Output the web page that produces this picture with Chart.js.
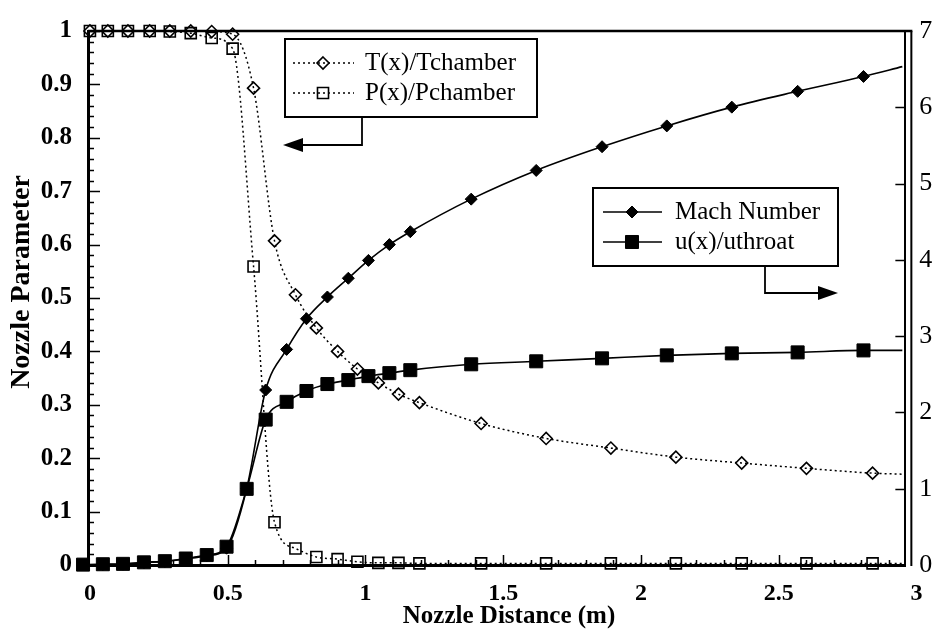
<!DOCTYPE html>
<html>
<head>
<meta charset="utf-8">
<script src="https://cdn.jsdelivr.net/npm/chart.js@4.4.1/dist/chart.umd.min.js"></script>
<style>
html,body{margin:0;padding:0;background:#fff;}
#wrap{width:936px;height:631px;position:relative;}
</style>
</head>
<body>
<div id="wrap"><canvas id="c"></canvas></div>
<script>
// ---- data ----
// Temperature / pressure series (left axis)
const xTP = [0, 0.065, 0.138, 0.217, 0.29, 0.366, 0.442, 0.518, 0.594, 0.67, 0.746, 0.822, 0.899, 0.971, 1.047, 1.12, 1.196, 1.42, 1.656, 1.891, 2.127, 2.366, 2.601, 2.841, 2.957];
const tempRatio = [1.0, 1.0, 1.0, 1.0, 1.0, 1.0, 0.999, 0.994, 0.893, 0.607, 0.506, 0.444, 0.40, 0.367, 0.341, 0.32, 0.304, 0.265, 0.237, 0.219, 0.202, 0.191, 0.181, 0.172, 0.170];
const pressRatio = [1.0, 1.0, 1.0, 1.0, 0.999, 0.996, 0.987, 0.967, 0.559, 0.08, 0.031, 0.015, 0.011, 0.006, 0.004, 0.004, 0.003, 0.003, 0.003, 0.003, 0.003, 0.003, 0.003, 0.003, 0.003];
// Mach number / velocity series (right axis)
const xMU = [-0.025, 0.047, 0.12, 0.196, 0.272, 0.348, 0.424, 0.496, 0.569, 0.638, 0.714, 0.786, 0.862, 0.938, 1.011, 1.087, 1.163, 1.384, 1.62, 1.859, 2.094, 2.33, 2.569, 2.808, 2.949];
const machNumber = [0.0, 0.005, 0.01, 0.03, 0.045, 0.08, 0.12, 0.22, 1.0, 2.294, 2.826, 3.228, 3.513, 3.759, 3.993, 4.2, 4.369, 4.796, 5.172, 5.483, 5.756, 6.002, 6.209, 6.404, 6.533];
const velRatio = [0.005, 0.01, 0.015, 0.035, 0.05, 0.085, 0.13, 0.24, 0.998, 1.906, 2.139, 2.281, 2.372, 2.424, 2.476, 2.515, 2.554, 2.631, 2.67, 2.709, 2.748, 2.774, 2.787, 2.813, 2.813];
const markerCount = 24; // last entry of each series is the curve end (no marker)
// tick labels
const xTicks = [0, 0.5, 1, 1.5, 2, 2.5, 3];
const leftTicks = [0, 0.1, 0.2, 0.3, 0.4, 0.5, 0.6, 0.7, 0.8, 0.9, 1];
const rightTicks = [0, 1, 2, 3, 4, 5, 6, 7];
const seriesNames = ['T(x)/Tchamber', 'P(x)/Pchamber', 'Mach Number', 'u(x)/uthroat'];
const xTitle = 'Nozzle Distance (m)';
const yTitle = 'Nozzle Parameter';

const FONT = "'Liberation Serif', 'Times New Roman', serif";
const toPts = (xs, ys) => xs.map((x, i) => ({x: x, y: ys[i]}));
const rad = r => (ctx => ctx.dataIndex < markerCount ? r : 0);

const datasets = [
  {label: seriesNames[0], data: toPts(xTP, tempRatio), yAxisID: 'yL',
   borderColor: '#000', borderWidth: 1.5, borderDash: [2, 3],
   pointStyle: 'rectRot', pointRadius: rad(6), pointBorderWidth: 1.6,
   pointBorderColor: '#000', pointBackgroundColor: 'rgba(255,255,255,0)',
   cubicInterpolationMode: 'monotone', clip: false},
  {label: seriesNames[1], data: toPts(xTP, pressRatio), yAxisID: 'yL',
   borderColor: '#000', borderWidth: 1.5, borderDash: [2, 3],
   pointStyle: 'rect', pointRadius: rad(7.8), pointBorderWidth: 1.6,
   pointBorderColor: '#000', pointBackgroundColor: 'rgba(255,255,255,0)',
   cubicInterpolationMode: 'monotone', clip: false},
  {label: seriesNames[2], data: toPts(xMU, machNumber), yAxisID: 'yR',
   borderColor: '#000', borderWidth: 1.6,
   pointStyle: 'rectRot', pointRadius: rad(6), pointBorderWidth: 1,
   pointBorderColor: '#000', pointBackgroundColor: '#000',
   cubicInterpolationMode: 'monotone', clip: false},
  {label: seriesNames[3], data: toPts(xMU, velRatio), yAxisID: 'yR',
   borderColor: '#000', borderWidth: 1.6,
   pointStyle: 'rect', pointRadius: rad(9.2), pointBorderWidth: 1,
   pointBorderColor: '#000', pointBackgroundColor: '#000',
   cubicInterpolationMode: 'monotone', clip: false}
];

const fmt = v => String(Math.round(v * 100) / 100);

// ticks (inside), frame, axis titles and annotation legends
const decor = {
  id: 'decor',
  beforeDatasetsDraw(chart) {
    const {ctx, chartArea: a, scales} = chart;
    const xs = scales.x, yl = scales.yL, yr = scales.yR;
    ctx.save();
    ctx.strokeStyle = '#000';
    ctx.lineWidth = 1.5;
    ctx.beginPath();
    for (let i = 0; i <= 50; i++) {
      const v = i / 50;
      const y = Math.round(yl.getPixelForValue(v)) + 0.5;
      const len = (i % 5 === 0) ? 12 : 6;
      ctx.moveTo(a.left, y); ctx.lineTo(a.left + len, y);
    }
    for (let i = 1; i <= 29; i++) {
      const v = i / 10;
      const x = Math.round(xs.getPixelForValue(v)) + 0.5;
      const len = (i % 5 === 0) ? 10 : 5;
      ctx.moveTo(x, a.bottom); ctx.lineTo(x, a.bottom - len);
    }
    for (let v = 1; v <= 6; v++) {
      const y = Math.round(yr.getPixelForValue(v)) + 0.5;
      ctx.moveTo(a.right - 10, y); ctx.lineTo(a.right, y);
    }
    ctx.stroke();
    ctx.lineWidth = 2.5;
    ctx.beginPath();
    ctx.moveTo(a.left, a.top); ctx.lineTo(a.right + 7, a.top);
    ctx.stroke();
    ctx.lineWidth = 2;
    ctx.beginPath();
    ctx.moveTo(a.right + 6, a.top); ctx.lineTo(a.right + 6, a.bottom + 1);
    ctx.stroke();
    ctx.restore();
  },
  afterDraw(chart) {
    const {ctx} = chart;
    const ds = chart.data.datasets;
    ctx.save();
    ctx.strokeStyle = '#000';
    ctx.fillStyle = '#000';
    // axis titles
    ctx.font = "bold 25px " + FONT;
    ctx.textAlign = 'center';
    ctx.textBaseline = 'middle';
    ctx.fillText(xTitle, 509, 617);
    ctx.save();
    ctx.translate(22, 282);
    ctx.rotate(-Math.PI / 2);
    ctx.font = "bold 28px " + FONT;
    ctx.fillText(yTitle, 0, 0);
    ctx.restore();

    const marker = (style, x, y, r, filled) => {
      ctx.save();
      ctx.setLineDash([]);
      ctx.lineWidth = filled ? 1 : 1.6;
      ctx.beginPath();
      if (style === 'rectRot') {
        ctx.moveTo(x, y - r); ctx.lineTo(x + r, y); ctx.lineTo(x, y + r); ctx.lineTo(x - r, y); ctx.closePath();
      } else {
        const s = r * Math.SQRT1_2;
        ctx.rect(x - s, y - s, 2 * s, 2 * s);
      }
      if (filled) ctx.fill();
      ctx.stroke();
      ctx.restore();
    };
    const row = (i, y, x0, x1, xm, xt) => {
      const d = ds[i];
      ctx.save();
      ctx.lineWidth = d.borderWidth;
      ctx.setLineDash(d.borderDash || []);
      ctx.beginPath(); ctx.moveTo(x0, y); ctx.lineTo(x1, y); ctx.stroke();
      ctx.restore();
      marker(d.pointStyle, xm, y, d.pointStyle === 'rect' ? (i === 3 ? 9.2 : 7.8) : 6, d.pointBackgroundColor === '#000');
      ctx.font = "25px " + FONT;
      ctx.textBaseline = 'middle';
      ctx.textAlign = 'left';
      ctx.fillText(d.label, xt, y);
    };
    ctx.lineWidth = 2;
    ctx.strokeRect(285, 39, 252, 78);
    row(0, 63, 293, 354, 323, 365);
    row(1, 93, 293, 354, 323, 365);
    ctx.lineWidth = 1.8;
    ctx.beginPath();
    ctx.moveTo(362, 117); ctx.lineTo(362, 145); ctx.lineTo(300, 145);
    ctx.stroke();
    ctx.beginPath();
    ctx.moveTo(283, 145); ctx.lineTo(303, 138); ctx.lineTo(303, 152); ctx.closePath();
    ctx.fill();
    ctx.lineWidth = 2;
    ctx.strokeRect(593, 188, 245, 78);
    row(2, 212, 603, 662, 632, 675);
    row(3, 242, 603, 662, 632, 675);
    ctx.lineWidth = 1.8;
    ctx.beginPath();
    ctx.moveTo(765, 266); ctx.lineTo(765, 293); ctx.lineTo(822, 293);
    ctx.stroke();
    ctx.beginPath();
    ctx.moveTo(838, 293); ctx.lineTo(818, 286); ctx.lineTo(818, 300); ctx.closePath();
    ctx.fill();
    ctx.restore();
  }
};

const tickFont = {family: FONT, size: 25, weight: 'bold'};

new Chart(document.getElementById('c'), {
  type: 'line',
  data: {datasets: datasets},
  options: {
    responsive: true,
    maintainAspectRatio: false,
    animation: false,
    events: [],
    layout: {padding: {top: 24, left: 0, right: 0, bottom: 0}},
    plugins: {legend: {display: false}, tooltip: {enabled: false}},
    scales: {
      x: {
        type: 'linear', min: -0.007, max: 2.96,
        afterBuildTicks: s => { s.ticks = xTicks.map(v => ({value: v})); },
        afterFit: s => { s.height = 66; },
        grid: {display: false, drawTicks: false},
        border: {display: true, color: '#000', width: 3},
        ticks: {font: {family: FONT, size: 24, weight: 'bold'}, color: '#000', padding: 14, maxRotation: 0, autoSkip: false, callback: v => fmt(v)},
        title: {display: false, text: xTitle}
      },
      yL: {
        type: 'linear', position: 'left', min: 0, max: 1,
        afterBuildTicks: s => { s.ticks = leftTicks.map(v => ({value: v})); },
        afterFit: s => { s.width = 88; },
        grid: {display: false, drawTicks: false},
        border: {display: true, color: '#000', width: 3},
        ticks: {font: tickFont, color: '#000', padding: 16, autoSkip: false, callback: v => fmt(v)},
        title: {display: false, text: yTitle}
      },
      yR: {
        type: 'linear', position: 'right', min: 0, max: 7,
        afterBuildTicks: s => { s.ticks = rightTicks.map(v => ({value: v})); },
        afterFit: s => { s.width = 28; },
        grid: {display: false, drawTicks: false},
        border: {display: true, color: '#000', width: 2},
        ticks: {font: {family: FONT, size: 26}, color: '#000', padding: 14, autoSkip: false, callback: v => fmt(v)}
      }
    }
  },
  plugins: [decor]
});
</script>
</body>
</html>
